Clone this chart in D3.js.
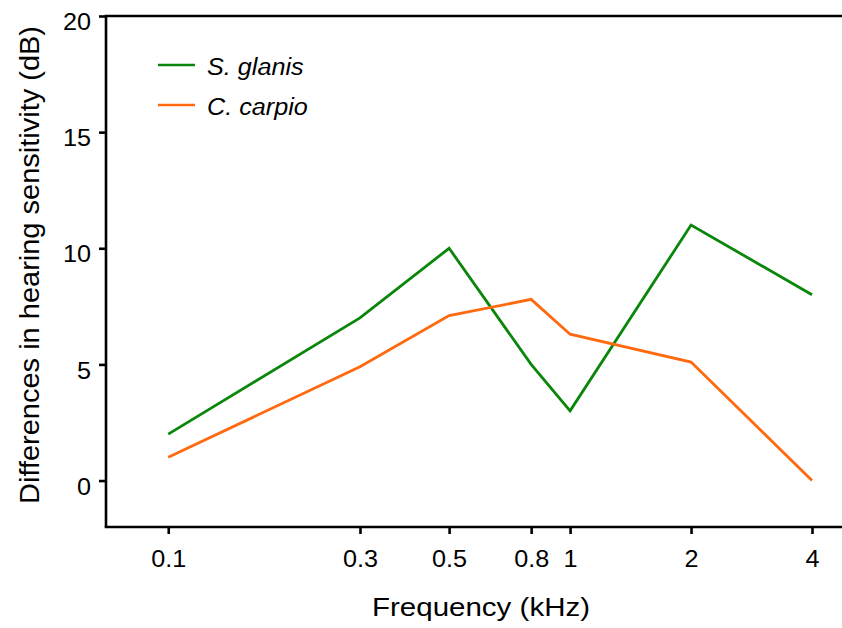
<!DOCTYPE html>
<html>
<head>
<meta charset="utf-8">
<script src="https://cdn.jsdelivr.net/npm/d3@7"></script>
<style>
  html, body { margin: 0; padding: 0; background: #fff; }
  svg { display: block; }
  text { font-family: "Liberation Sans", Arial, sans-serif; fill: #000; }
</style>
</head>
<body>
<svg id="chart" width="842" height="628"></svg>
<script>
const frequencies = [0.1, 0.3, 0.5, 0.8, 1, 2, 4];
const xTickLabels = ["0.1", "0.3", "0.5", "0.8", "1", "2", "4"];
const yTicks = [0, 5, 10, 15, 20];
const seriesNames = ["S. glanis", "C. carpio"];
const seriesColors = ["#0a860a", "#ff6a10"];
const glanisValues = [2, 7, 10, 5, 3, 11, 8];
const carpioValues = [1, 4.9, 7.1, 7.8, 6.3, 5.1, 0];

(function () {
const svg = d3.select("#chart");
const pLeft = 106, pRight = 842, pTop = 16, pBottom = 527;
const FONT = "Liberation Sans, Arial, sans-serif";
const sx = 1.05;

const x = d3.scaleLog().domain([0.07, 4.75]).range([pLeft, pRight]);
const y = d3.scaleLinear().domain([-2, 20]).range([pBottom, pTop]);

// Frame lines (left, top, bottom)
const frame = svg.append("g").attr("stroke", "#000").attr("stroke-width", 2.6).attr("fill", "none");
frame.append("path").attr("d", `M${pLeft},${pTop}V${pBottom}`);
frame.append("path").attr("d", `M${pLeft - 1.3},${pTop}H${pRight}`);
frame.append("path").attr("d", `M${pLeft - 1.3},${pBottom}H${pRight}`);

// Y axis
const yAxis = svg.append("g").attr("transform", `translate(${pLeft},0)`)
  .call(d3.axisLeft(y).tickValues(yTicks).tickSize(7).tickPadding(8).tickFormat(d3.format("d")));
yAxis.select(".domain").remove();
yAxis.selectAll(".tick line").attr("stroke", "#000").attr("stroke-width", 2.6);
yAxis.selectAll(".tick text")
  .attr("font-size", 24).attr("font-family", FONT)
  .attr("x", -15 / sx).attr("y", 6)
  .attr("transform", `scale(${sx},1)`);

// X axis
const xAxis = svg.append("g").attr("transform", `translate(0,${pBottom})`)
  .call(d3.axisBottom(x).tickValues(frequencies).tickSize(7).tickPadding(16)
    .tickFormat((d, i) => xTickLabels[i]));
xAxis.select(".domain").remove();
xAxis.selectAll(".tick line").attr("stroke", "#000").attr("stroke-width", 2.6);
xAxis.selectAll(".tick text")
  .attr("font-size", 24).attr("font-family", FONT)
  .attr("transform", `scale(${sx},1)`);

// Axis titles
svg.append("text").attr("x", 481).attr("y", 616).attr("text-anchor", "middle")
  .attr("font-size", 25).attr("textLength", 218).attr("lengthAdjust", "spacingAndGlyphs")
  .text("Frequency (kHz)");
svg.append("text").attr("transform", "translate(39,265) rotate(-90)").attr("text-anchor", "middle")
  .attr("font-size", 27).attr("textLength", 478).attr("lengthAdjust", "spacingAndGlyphs")
  .text("Differences in hearing sensitivity (dB)");

// Lines
const line = d3.line().x((d, i) => x(frequencies[i])).y(d => y(d));
[glanisValues, carpioValues].forEach((vals, k) => {
  svg.append("path").datum(vals).attr("d", line)
    .attr("fill", "none").attr("stroke", seriesColors[k]).attr("stroke-width", 2.8)
    .attr("stroke-linejoin", "miter");
});

// Legend
const legend = svg.append("g");
seriesNames.forEach((name, k) => {
  const ly = 65 + k * 40;
  legend.append("line").attr("x1", 158).attr("x2", 195).attr("y1", ly).attr("y2", ly)
    .attr("stroke", seriesColors[k]).attr("stroke-width", 2.6);
  legend.append("text").attr("x", 207 / sx).attr("y", ly + 10.5).attr("font-size", 24)
    .attr("transform", `scale(${sx},1)`)
    .attr("font-style", "italic").text(name);
});
})();
</script>
</body>
</html>
